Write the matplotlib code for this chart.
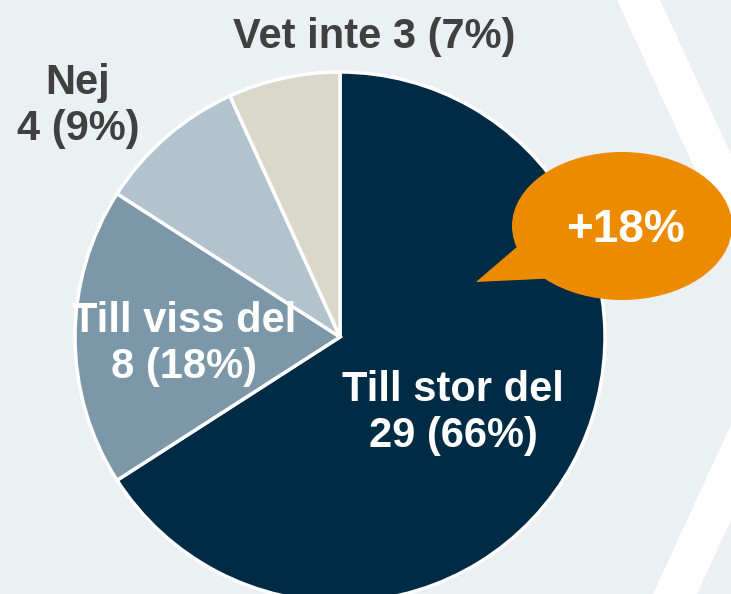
import matplotlib
matplotlib.use("Agg")
import matplotlib.pyplot as plt
from matplotlib.patches import Ellipse, Polygon

plt.rcParams["font.family"] = ["Liberation Sans", "DejaVu Sans"]

W, H = 731, 594

# survey answers, clockwise from 12 o'clock
labels = ["Till stor del", "Till viss del", "Nej", "Vet inte"]
counts = [29, 8, 4, 3]
colors = ["#002B45", "#7B97A8", "#B2C3CE", "#DAD8CB"]
change_text = "+18%"

total = sum(counts)
pcts = [round(100 * c / total) for c in counts]

BG = "#EBF0F3"
DARK_TEXT = "#404040"


def py(y):
    # picture coords (y down) -> axes coords (y up)
    return H - y


fig = plt.figure(figsize=(W / 100, H / 100), dpi=100, facecolor=BG)
ax = fig.add_axes([0, 0, 1, 1])
ax.set_facecolor(BG)

# white chevron in the background on the right
chevron = [(617, 0), (660, 0), (815, 337), (697, 594), (653, 594), (772, 336)]
ax.add_patch(Polygon([(x, py(y)) for x, y in chevron], closed=True,
                     facecolor="white", edgecolor="none", zorder=0))

ax.pie(counts, colors=colors, startangle=90, counterclock=False,
       center=(340, py(337)), radius=265,
       wedgeprops=dict(edgecolor="white", linewidth=2.5))

# slice labels
ax.text(453, py(413), f"{labels[0]}\n{counts[0]} ({pcts[0]}%)",
        ha="center", va="center", color="white", fontsize=30,
        fontweight="bold", linespacing=1.17, zorder=5)
ax.text(184, py(344), f"{labels[1]}\n{counts[1]} ({pcts[1]}%)",
        ha="center", va="center", color="white", fontsize=30,
        fontweight="bold", linespacing=1.2, zorder=5)
ax.text(78, py(106), f"{labels[2]}\n{counts[2]} ({pcts[2]}%)",
        ha="center", va="center", color=DARK_TEXT, fontsize=30,
        fontweight="bold", linespacing=1.2, zorder=5)
ax.text(374, py(37), f"{labels[3]} {counts[3]} ({pcts[3]}%)",
        ha="center", va="center", color=DARK_TEXT, fontsize=30,
        fontweight="bold", zorder=5)

# orange speech bubble
orange = "#EC8B00"
ax.add_patch(Ellipse((622, py(226)), 220, 148, facecolor=orange,
                     edgecolor="none", zorder=6))
tail = [(525, 240), (476, 282), (560, 278)]
ax.add_patch(Polygon([(x, py(y)) for x, y in tail], closed=True,
                     facecolor=orange, edgecolor="none", zorder=6))
ax.text(625, py(230), change_text, ha="center", va="center", color="white",
        fontsize=33, fontweight="bold", zorder=7)

ax.set_xlim(0, W)
ax.set_ylim(0, H)
ax.set_aspect("equal")
ax.axis("off")

fig.savefig("out.png", dpi=100, facecolor=BG)
